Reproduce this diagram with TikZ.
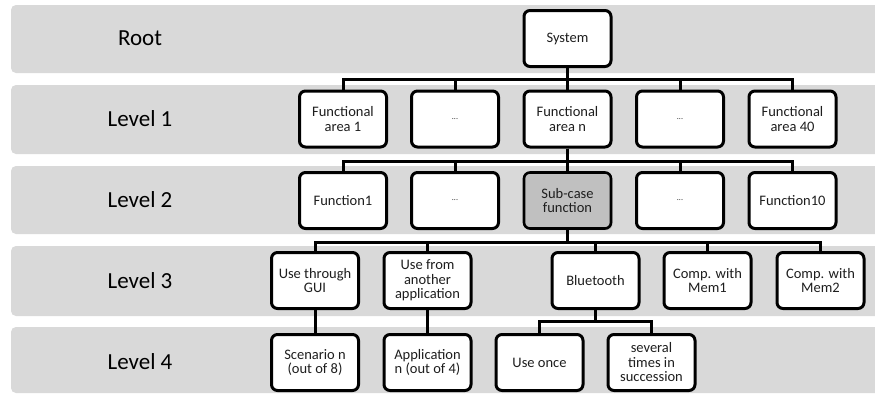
\documentclass[tikz,border=0pt]{standalone}
\usepackage{fontspec}
\setmainfont{Carlito}
\usetikzlibrary{shadows}
\definecolor{band}{HTML}{D9D9D9}
\definecolor{subfill}{HTML}{C0C0C0}
\definecolor{ink}{HTML}{1E1E1E}
\tikzset{
  levelband/.style={fill=band, draw=none, rounded corners=5pt},
  levellabel/.style={font=\fontsize{23}{25}\selectfont, text=black},
  treebox/.style={draw=black, line width=3pt, fill=white, rounded corners=6pt,
    minimum width=87pt, minimum height=56pt, inner sep=1pt, align=center,
    text=ink, font=\fontsize{14.5}{14.5}\selectfont},
  subbox/.style={treebox, fill=subfill, line width=2.6pt,
    drop shadow={opacity=0.35, shadow xshift=1.5pt, shadow yshift=-1.5pt}},
  link/.style={line width=3pt, draw=black, line join=miter},
}
\begin{document}
\begin{tikzpicture}[x=1pt,y=-1pt]
\useasboundingbox (0,0) rectangle (875,394);
\clip (0,0) rectangle (875,394);
\fill[white] (0,0) rectangle (875,394);

% level bands
\path[levelband] (11,5)   rectangle (890,73);
\path[levelband] (11,85)  rectangle (890,154);
\path[levelband] (11,166) rectangle (890,234);
\path[levelband] (11,246) rectangle (890,316);
\path[levelband] (11,327) rectangle (890,393);

\node[levellabel] (lroot) at (140,38)  {Root};
\node[levellabel] (lone)  at (140,119) {Level 1};
\node[levellabel] (ltwo)  at (140,200) {Level 2};
\node[levellabel] (lthree) at (140,281) {Level 3};
\node[levellabel] (lfour) at (140,362) {Level 4};

% tree nodes
\node[treebox] (sys) at (567.5,38.5) {System};

\node[treebox] (fa1) at (343,119)   {Functional\\area 1};
\node[treebox] (fad1) at (455,119)  {\footnotesize ...};
\node[treebox] (fan) at (567.5,119) {Functional\\area n};
\node[treebox] (fad2) at (680,119)  {\footnotesize ...};
\node[treebox] (fa40) at (792.5,119) {Functional\\area 40};

\node[treebox] (fn1) at (343,200.5)   {Function1};
\node[treebox] (fnd1) at (455,200.5)  {\footnotesize ...};
\node[subbox]  (sub) at (567.5,200.5) {Sub-case\\function};
\node[treebox] (fnd2) at (680,200.5)  {\footnotesize ...};
\node[treebox] (fn10) at (792.5,200.5) {Function10};

\node[treebox] (gui) at (315,280.5)   {Use through\\GUI};
\node[treebox] (app) at (427.5,280.5) {Use from\\another\\application};
\node[treebox] (bt)  at (595.5,280.5) {Bluetooth};
\node[treebox] (m1)  at (707.5,280.5) {Comp. with\\Mem1};
\node[treebox] (m2)  at (820.5,280.5) {Comp. with\\Mem2};

\node[treebox] (scn) at (315,362.5)   {Scenario n\\(out of 8)};
\node[treebox] (apn) at (427.5,362.5) {Application\\n (out of 4)};
\node[treebox] (once) at (539.5,362.5) {Use once};
\node[treebox] (sev) at (651.5,362.5) {several\\times in\\succession};

% heights of the horizontal bars
\coordinate (barA) at (0,79);
\coordinate (barB) at (0,161);
\coordinate (barC) at (0,242);
\coordinate (barD) at (0,321);

% connectors
\foreach \c in {fa1,fad1,fan,fad2,fa40}
  \draw[link] (sys.south) |- (\c.north |- barA) -- (\c.north);
\foreach \c in {fn1,fnd1,sub,fnd2,fn10}
  \draw[link] (fan.south) |- (\c.north |- barB) -- (\c.north);
\foreach \c in {gui,app,bt,m1,m2}
  \draw[link] (sub.south) |- (\c.north |- barC) -- (\c.north);
\foreach \c in {once,sev}
  \draw[link] (bt.south) |- (\c.north |- barD) -- (\c.north);
\draw[link] (gui.south) -- (scn.north);
\draw[link] (app.south) -- (apn.north);
\end{tikzpicture}
\end{document}
